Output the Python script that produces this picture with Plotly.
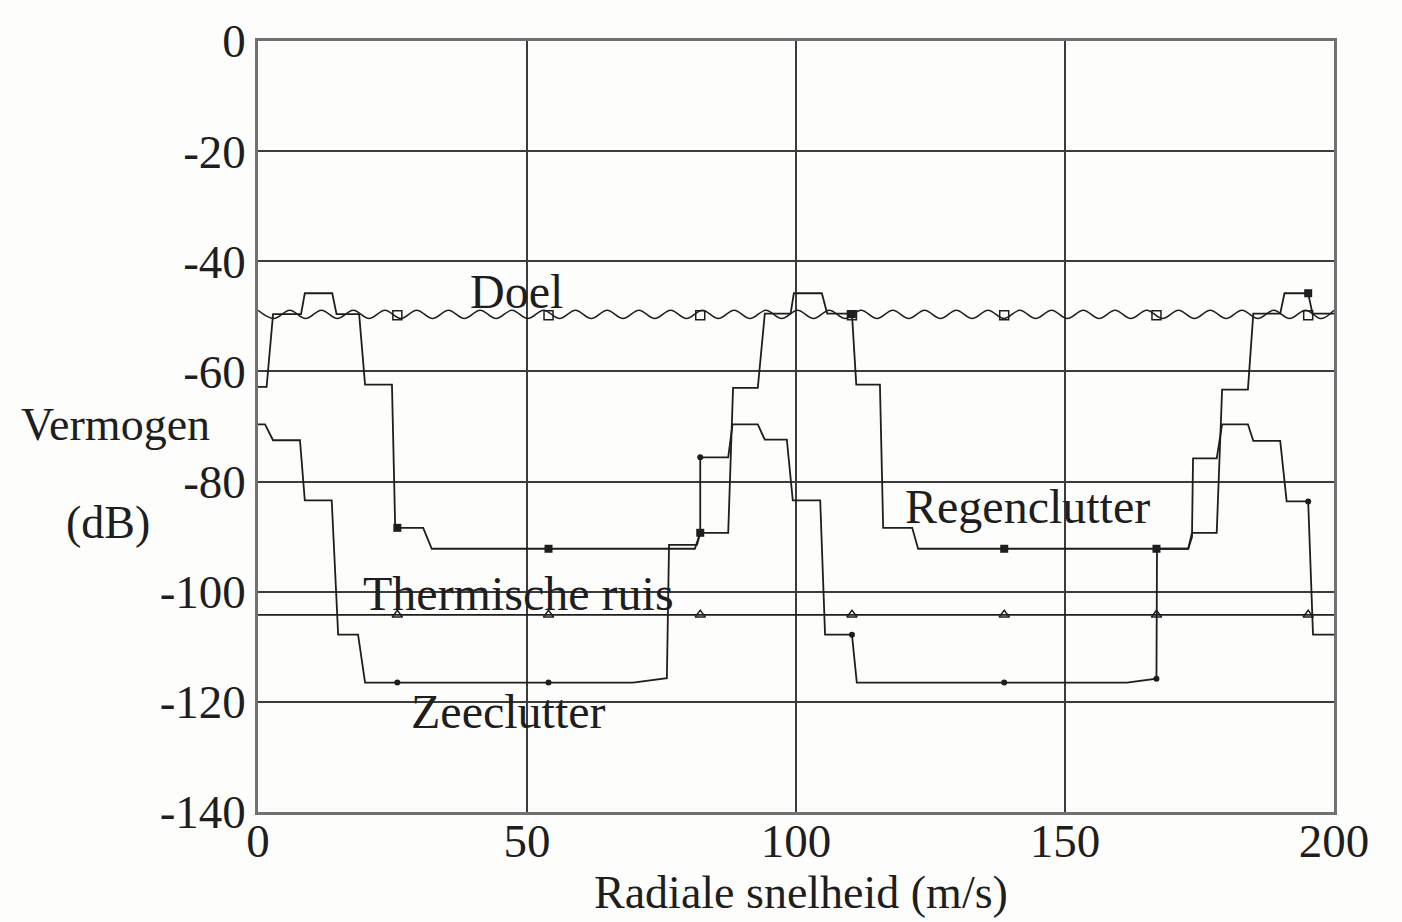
import plotly.graph_objects as go

# ---------------- data ----------------
x_ticks = [0, 50, 100, 150, 200]
x_tick_labels = ["0", "50", "100", "150", "200"]
y_ticks = [0, -20, -40, -60, -80, -100, -120, -140]
y_tick_labels = ["0", "-20", "-40", "-60", "-80", "-100", "-120", "-140"]

# velocities where the symbols are plotted
marker_x = [25.9, 54.0, 82.2, 110.4, 138.7, 167.0, 195.2]

# Doel (target) - slightly wavy line around -49.7 dB (crests / troughs)
doel_x = [0, 2.95, 5.9, 8.85, 11.8, 14.75, 17.7, 20.65, 23.6, 26.55, 29.5, 32.45,
          35.4, 38.35, 41.3, 44.25, 47.2, 50.15, 53.1, 56.05, 59.0, 61.95, 64.9,
          67.85, 70.8, 73.75, 76.7, 79.65, 82.6, 85.55, 88.5, 91.45, 94.4, 97.35,
          100.3, 103.25, 106.2, 109.15, 112.1, 115.05, 118.0, 120.95, 123.9,
          126.85, 129.8, 132.75, 135.7, 138.65, 141.6, 144.55, 147.5, 150.45,
          153.4, 156.35, 159.3, 162.25, 165.2, 168.15, 171.1, 174.05, 177.0,
          179.95, 182.9, 185.85, 188.8, 191.75, 194.7, 197.65, 200]
doel_y = [-48.9, -50.4, -48.9, -50.4, -48.9, -50.4, -48.9, -50.4, -48.9, -50.4,
          -48.9, -50.4, -48.9, -50.4, -48.9, -50.4, -48.9, -50.4, -48.9, -50.4,
          -48.9, -50.4, -48.9, -50.4, -48.9, -50.4, -48.9, -50.4, -48.9, -50.4,
          -48.9, -50.4, -48.9, -50.4, -48.9, -50.4, -48.9, -50.4, -48.9, -50.4,
          -48.9, -50.4, -48.9, -50.4, -48.9, -50.4, -48.9, -50.4, -48.9, -50.4,
          -48.9, -50.4, -48.9, -50.4, -48.9, -50.4, -48.9, -50.4, -48.9, -50.4,
          -48.9, -50.4, -48.9, -50.4, -48.9, -50.4, -48.9, -50.4, -48.9]
doel_marker_y = [-49.8, -49.8, -49.8, -49.8, -49.8, -49.8, -49.8]

# Regenclutter (rain clutter)
regen_x = [0, 1.6, 2.8, 8.0, 8.7, 13.8, 14.6, 18.8, 19.9, 24.9, 25.5, 30.7, 32.3,
           81.2, 82.2, 87.4, 88.3, 92.9, 94.2, 99.0, 99.6, 104.8, 105.8, 110.4,
           111.2, 115.6, 116.2, 121.6, 122.7, 172.9, 173.6, 178.2, 179.2, 184.0,
           185.0, 190.0, 190.8, 195.2, 196.0, 200]
regen_y = [-62.8, -62.8, -49.6, -49.6, -45.8, -45.8, -49.6, -49.6, -62.4, -62.4,
           -88.4, -88.4, -92.2, -92.2, -89.3, -89.3, -63.0, -63.0, -49.5, -49.5,
           -45.8, -45.8, -49.5, -49.5, -62.4, -62.4, -88.4, -88.4, -92.2, -92.2,
           -89.3, -89.3, -63.3, -63.3, -49.5, -49.5, -45.8, -45.8, -49.5, -49.5]
regen_marker_y = [-88.4, -92.2, -89.3, -49.6, -92.2, -92.2, -45.8]

# Zeeclutter (sea clutter)
zee_x = [0, 1.3, 2.8, 7.8, 8.7, 13.7, 14.9, 18.6, 19.9, 69.7, 76.0, 76.4, 81.6,
         82.2, 82.2, 87.4, 88.2, 92.9, 94.2, 98.3, 99.4, 104.5, 105.4, 110.4,
         111.3, 161.5, 167.0, 167.1, 172.9, 173.6, 173.8, 178.2, 179.2, 184.0,
         185.0, 190.0, 191.2, 195.2, 196.1, 200]
zee_y = [-69.6, -69.6, -72.5, -72.5, -83.4, -83.4, -107.8, -107.8, -116.5, -116.5,
         -115.7, -91.5, -91.5, -89.3, -75.6, -75.6, -69.6, -69.6, -72.4, -72.4,
         -83.4, -83.4, -107.8, -107.8, -116.5, -116.5, -115.8, -92.2, -92.2, -90.1,
         -75.8, -75.8, -69.6, -69.6, -72.6, -72.6, -83.6, -83.6, -107.8, -107.8]
zee_marker_y = [-116.5, -116.5, -75.6, -107.8, -116.5, -115.8, -83.6]

# Thermische ruis (thermal noise)
thermal_x = [0, 200]
thermal_y = [-104.2, -104.2]
thermal_marker_y = [-104.2, -104.2, -104.2, -104.2, -104.2, -104.2, -104.2]

# labels
curve_labels = ["Doel", "Regenclutter", "Thermische ruis", "Zeeclutter"]
curve_label_x = [48.0, 143.0, 48.5, 46.5]
curve_label_y = [-45.4, -84.6, -100.3, -121.7]

# ---------------- figure ----------------
INK = "#1e1e1e"
FONT = "Liberation Serif"

fig = go.Figure()

fig.add_trace(go.Scatter(x=thermal_x, y=thermal_y, mode="lines",
                         line=dict(color=INK, width=1.8), hoverinfo="skip"))
fig.add_trace(go.Scatter(x=marker_x, y=thermal_marker_y, mode="markers",
                         marker=dict(symbol="triangle-up-open", size=9,
                                     color=INK, line=dict(width=1.5))))

fig.add_trace(go.Scatter(x=zee_x, y=zee_y, mode="lines",
                         line=dict(color=INK, width=1.8)))
fig.add_trace(go.Scatter(x=marker_x, y=zee_marker_y, mode="markers",
                         marker=dict(symbol="circle", size=6, color=INK)))

fig.add_trace(go.Scatter(x=regen_x, y=regen_y, mode="lines",
                         line=dict(color=INK, width=1.8)))

fig.add_trace(go.Scatter(x=doel_x, y=doel_y, mode="lines",
                         line=dict(color=INK, width=1.5, shape="spline",
                                   smoothing=1.0)))
fig.add_trace(go.Scatter(x=marker_x, y=doel_marker_y, mode="markers",
                         marker=dict(symbol="square-open", size=9,
                                     color=INK, line=dict(width=1.5))))
fig.add_trace(go.Scatter(x=marker_x, y=regen_marker_y, mode="markers",
                         marker=dict(symbol="square", size=8, color=INK)))

for txt, lx, ly in zip(curve_labels, curve_label_x, curve_label_y):
    fig.add_annotation(x=lx, y=ly, xref="x", yref="y", text=txt,
                       showarrow=False, xanchor="center", yanchor="middle",
                       font=dict(family=FONT, size=48, color=INK))

# axis titles as free text (placed like the original)
fig.add_annotation(x=-0.132, y=0.503, xref="paper", yref="paper",
                   text="Vermogen", showarrow=False,
                   xanchor="center", yanchor="middle",
                   font=dict(family=FONT, size=46, color=INK))
fig.add_annotation(x=-0.139, y=0.376, xref="paper", yref="paper",
                   text="(dB)", showarrow=False,
                   xanchor="center", yanchor="middle",
                   font=dict(family=FONT, size=46, color=INK))
fig.add_annotation(x=0.5046, y=-0.105, xref="paper", yref="paper",
                   text="Radiale snelheid (m/s)", showarrow=False,
                   xanchor="center", yanchor="middle",
                   font=dict(family=FONT, size=46, color=INK))

fig.update_layout(
    width=1402, height=922,
    margin=dict(l=258, r=68, t=41, b=110),
    paper_bgcolor="#fdfdfb", plot_bgcolor="#fdfdfb",
    showlegend=False,
    font=dict(family=FONT, color=INK),
)
fig.update_xaxes(range=[0, 200], tickvals=x_ticks, ticktext=x_tick_labels,
                 showgrid=True, gridcolor="#3c3c3c", gridwidth=1.5,
                 zeroline=False, showline=True, mirror=True,
                 linecolor="#707070", linewidth=2.5, ticks="",
                 tickfont=dict(family=FONT, size=47, color=INK),
                 ticklabelstandoff=-14)
fig.update_yaxes(range=[-140, 0], tickvals=y_ticks, ticktext=y_tick_labels,
                 showgrid=True, gridcolor="#3c3c3c", gridwidth=1.5,
                 zeroline=False, showline=True, mirror=True,
                 linecolor="#707070", linewidth=2.5, ticks="",
                 tickfont=dict(family=FONT, size=47, color=INK),
                 ticklabelstandoff=0)

fig.write_html("out.html")
